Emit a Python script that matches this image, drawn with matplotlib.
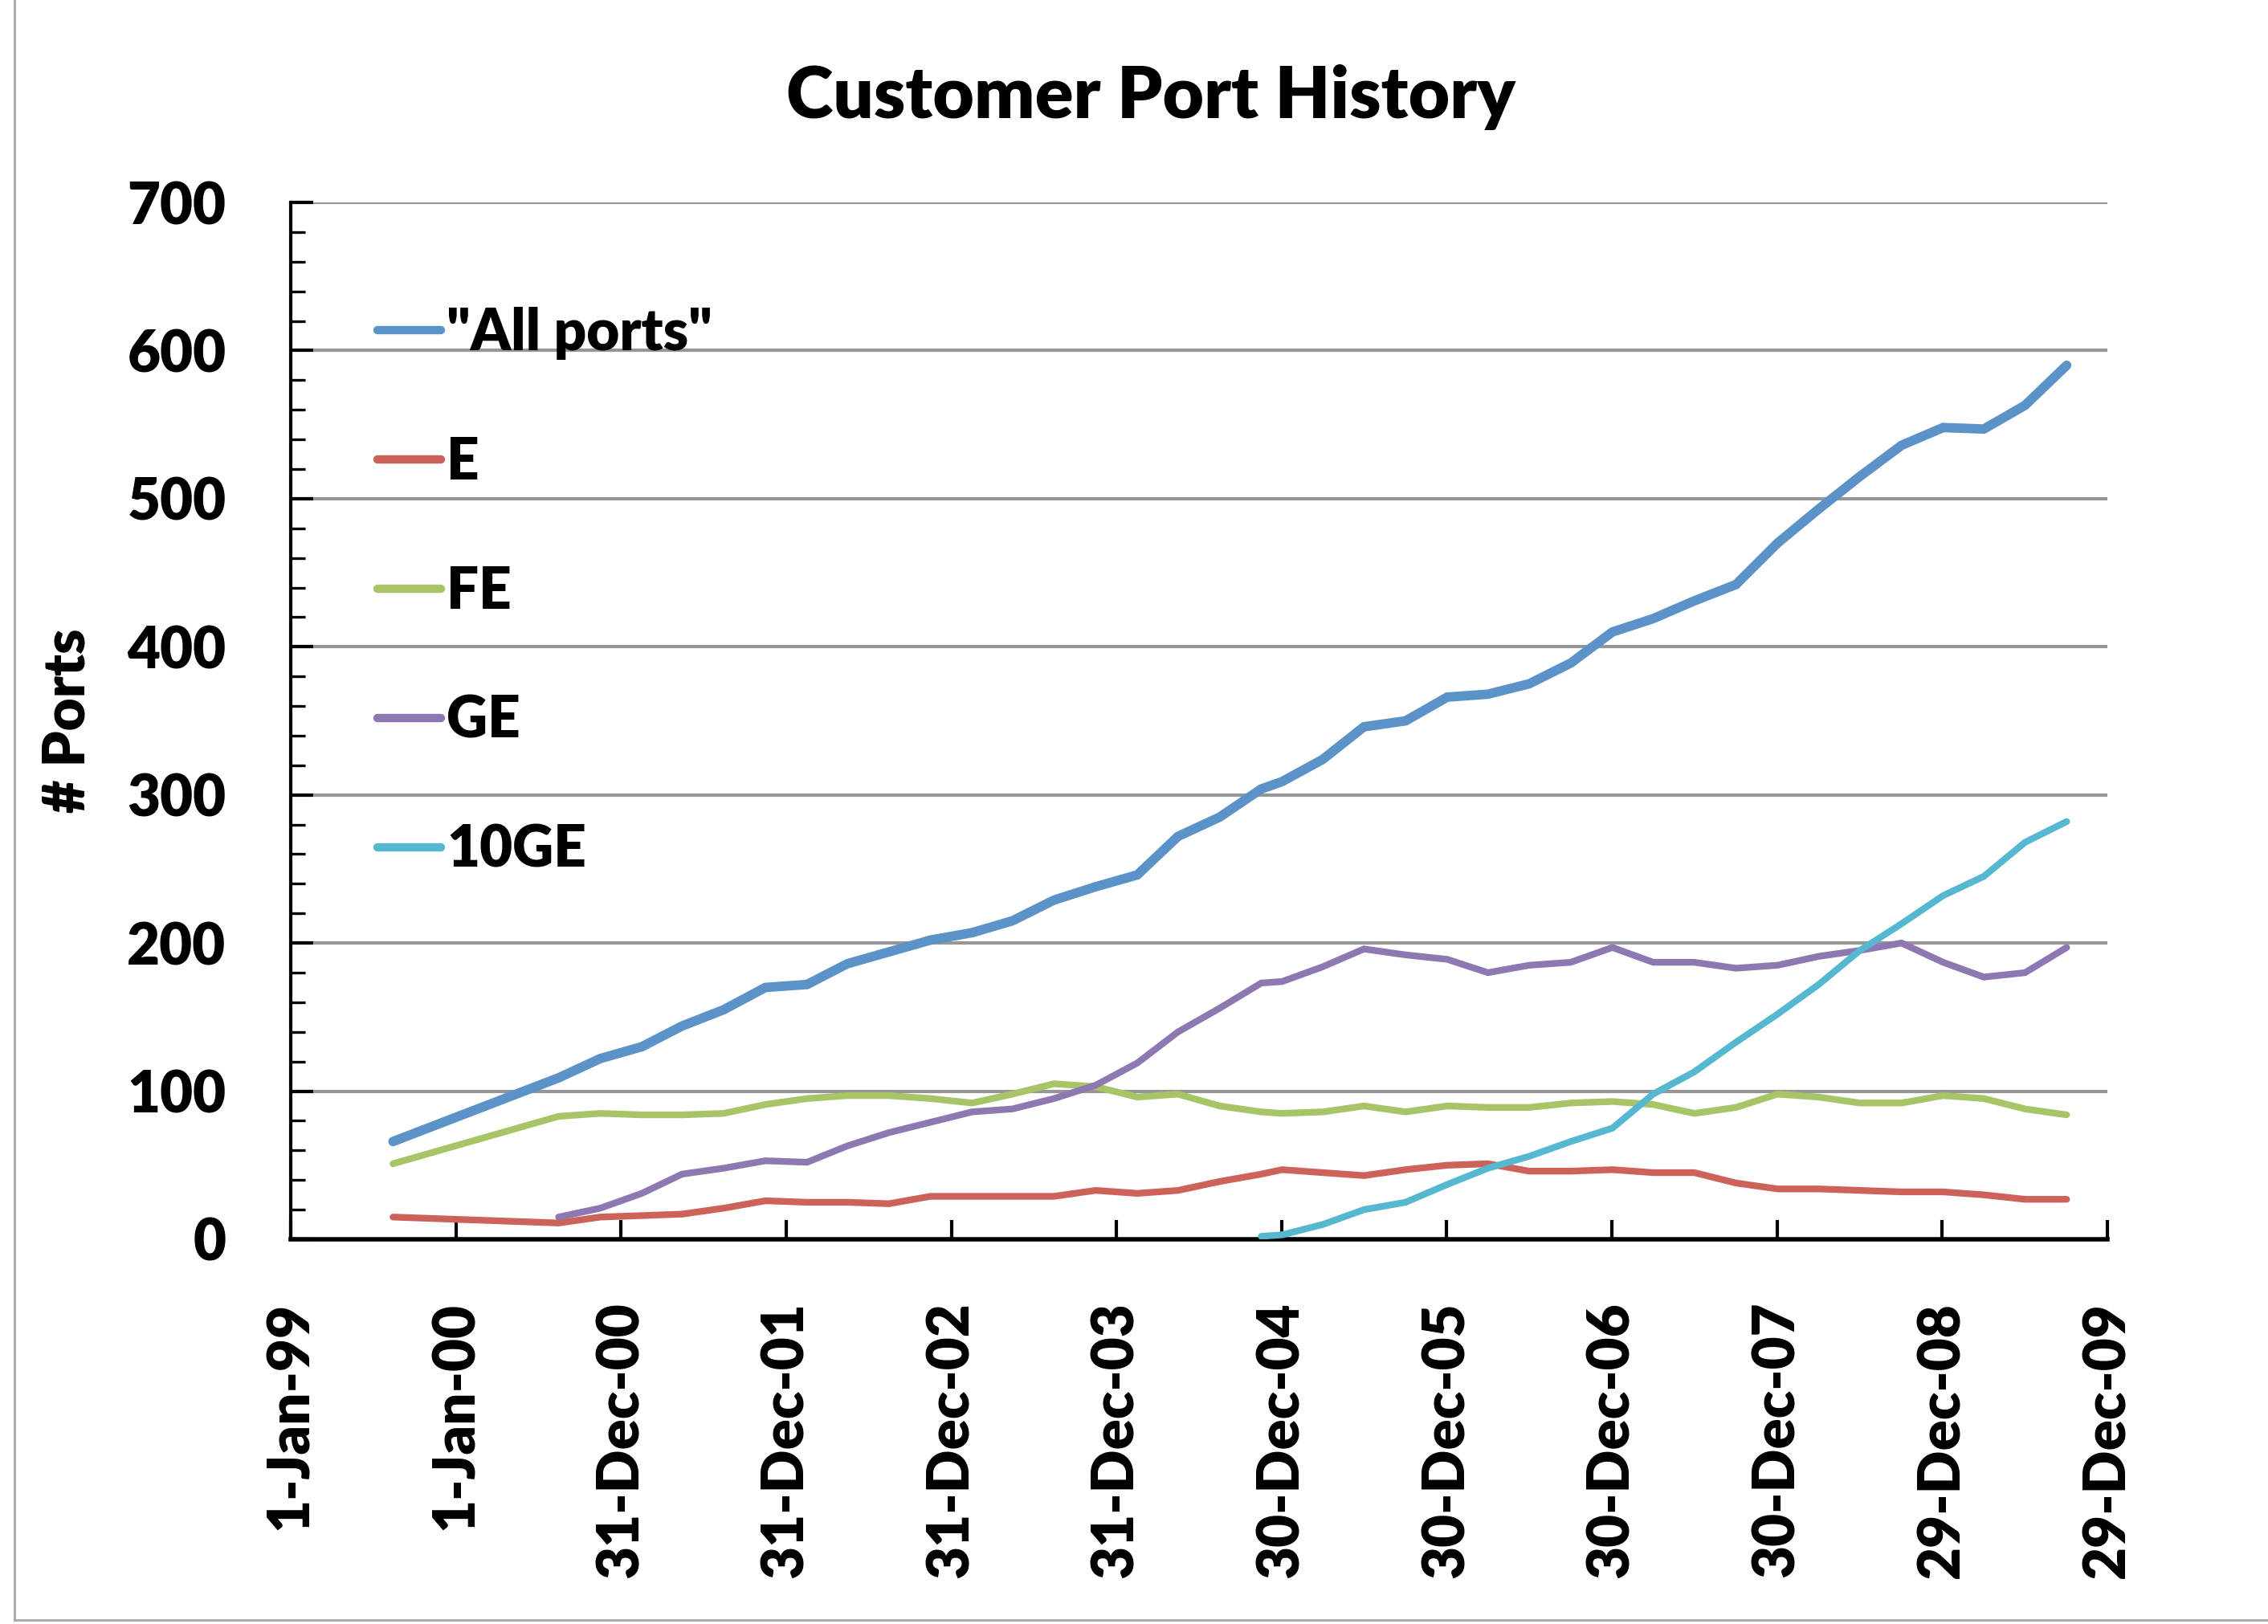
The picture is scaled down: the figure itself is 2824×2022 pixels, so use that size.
import numpy as np
import pandas as pd
import matplotlib
matplotlib.use("Agg")
import matplotlib.pyplot as plt
from matplotlib.lines import Line2D

plt.rcParams['font.family'] = ['Lato', 'DejaVu Sans']
WEIGHT = 'heavy'
plt.rcParams['font.weight'] = WEIGHT

dates = ['1999-08-15', '2000-08-15', '2000-11-15', '2001-02-15', '2001-05-15', '2001-08-15',
         '2001-11-15', '2002-02-15', '2002-05-15', '2002-08-15', '2002-11-15', '2003-02-15',
         '2003-05-15', '2003-08-15', '2003-11-15', '2004-02-15', '2004-05-15', '2004-08-15',
         '2004-11-15', '2004-12-31', '2005-03-31', '2005-06-30', '2005-09-30', '2005-12-31',
         '2006-03-31', '2006-06-30', '2006-09-30', '2006-12-31', '2007-03-31', '2007-06-30',
         '2007-09-30', '2007-12-31', '2008-03-31', '2008-06-30', '2008-09-30', '2008-12-31',
         '2009-03-31', '2009-06-30', '2009-09-30']

all_ports = [66, 109, 122, 130, 144, 155, 170, 172, 186, 194, 202, 207, 215, 229, 238, 246, 272, 285,
             304, 309, 324, 346, 350, 366, 368, 375, 389, 410, 419, 431, 442, 470, 493, 515, 536, 548,
             547, 563, 590]
e_ports = [15, 11, 15, 16, 17, 21, 26, 25, 25, 24, 29, 29, 29, 29, 33, 31, 33, 39,
           44, 47, 45, 43, 47, 50, 51, 46, 46, 47, 45, 45, 38, 34, 34, 33, 32, 32,
           30, 27, 27]
fe_ports = [51, 83, 85, 84, 84, 85, 91, 95, 97, 97, 95, 92, 98, 105, 103, 96, 98, 90,
            86, 85, 86, 90, 86, 90, 89, 89, 92, 93, 91, 85, 89, 98, 96, 92, 92, 97,
            95, 88, 84]
ge_ports = [np.nan, 15, 21, 31, 44, 48, 53, 52, 63, 72, 79, 86, 88, 95, 104, 119, 140, 156,
            173, 174, 184, 196, 192, 189, 180, 185, 187, 197, 187, 187, 183, 185, 191, 195, 200, 187,
            177, 180, 197]
tenge_ports = [np.nan] * 18 + [2, 3, 10, 20, 25, 37, 48, 56, 66, 75, 98, 113, 133, 152, 172, 195, 213, 232,
                               245, 268, 282]

series_names = ['"All ports"', 'E', 'FE', 'GE', '10GE']
series_colors = ['#5b93c9', '#cd625a', '#a7c467', '#8e78b2', '#55b8d0']
series_widths = [8.5, 6.0, 6.0, 6.0, 6.0]

tick_dates = ['1999-01-01', '2000-01-01', '2000-12-31', '2001-12-31', '2002-12-31', '2003-12-31',
              '2004-12-30', '2005-12-30', '2006-12-30', '2007-12-30', '2008-12-29', '2009-12-29']
tick_labels = ['1-Jan-99', '1-Jan-00', '31-Dec-00', '31-Dec-01', '31-Dec-02', '31-Dec-03',
               '30-Dec-04', '30-Dec-05', '30-Dec-06', '30-Dec-07', '29-Dec-08', '29-Dec-09']
y_ticks = [0, 100, 200, 300, 400, 500, 600, 700]

x = pd.to_datetime(dates)
data = [all_ports, e_ports, fe_ports, ge_ports, tenge_ports]

W, H = 2824, 2022
fig = plt.figure(figsize=(W / 100, H / 100), dpi=100)
ax = fig.add_axes([362 / W, 1 - 1543 / H, (2624 - 362) / W, (1543 - 252) / H])

for vals, name, c, lw in zip(data, series_names, series_colors, series_widths):
    ax.plot(x, vals, color=c, lw=lw, label=name, solid_capstyle='round', solid_joinstyle='miter', zorder=3)

xt = pd.to_datetime(tick_dates)
ax.set_xlim(xt[0], xt[-1])
ax.set_ylim(0, 700)
ax.set_xticks(xt)
ax.set_xticklabels(tick_labels, rotation=90, fontsize=51, fontweight=WEIGHT)
ax.set_yticks(y_ticks)
ax.set_yticklabels([str(v) for v in y_ticks], fontsize=51, fontweight=WEIGHT)
ax.set_yticks(np.arange(0, 701, 20), minor=True)

for v in y_ticks[1:]:
    ax.axhline(v, color='#969696', lw=3.0, zorder=1)

for s in ['top', 'right']:
    ax.spines[s].set_visible(False)
ax.spines['left'].set_linewidth(3.0)
ax.spines['bottom'].set_linewidth(4.0)
ax.tick_params(axis='y', which='major', direction='in', length=20, width=3.0, pad=58)
ax.tick_params(axis='y', which='minor', direction='in', length=13, width=2.4)
ax.tick_params(axis='x', which='major', direction='in', length=17, width=3.0, pad=56)

fig.text(1433 / W, 1 - 121 / H, 'Customer Port History', ha='center', va='center',
         fontsize=64, fontweight=WEIGHT)
fig.text(85 / W, 1 - 897 / H, '# Ports', rotation=90, ha='center', va='center',
         fontsize=51, fontweight=WEIGHT)

leg = ax.legend(loc='upper left', bbox_to_anchor=(470 / W, 1 - 382 / H), bbox_transform=fig.transFigure,
                frameon=False, fontsize=51, handlelength=1.12, handletextpad=0.1,
                labelspacing=1.34, borderpad=0, borderaxespad=0)
for t in leg.get_texts():
    t.set_fontweight(WEIGHT)
for h in leg.legend_handles:
    h.set_linewidth(7.5)
    h.set_solid_capstyle('round')

fig.add_artist(Line2D([18 / W, 18 / W], [5 / H, 1], transform=fig.transFigure, color='#a6a6a6', lw=2))
fig.add_artist(Line2D([18 / W, 1], [5 / H, 5 / H], transform=fig.transFigure, color='#a6a6a6', lw=2))

fig.savefig('out.png', dpi=100, facecolor='white')
